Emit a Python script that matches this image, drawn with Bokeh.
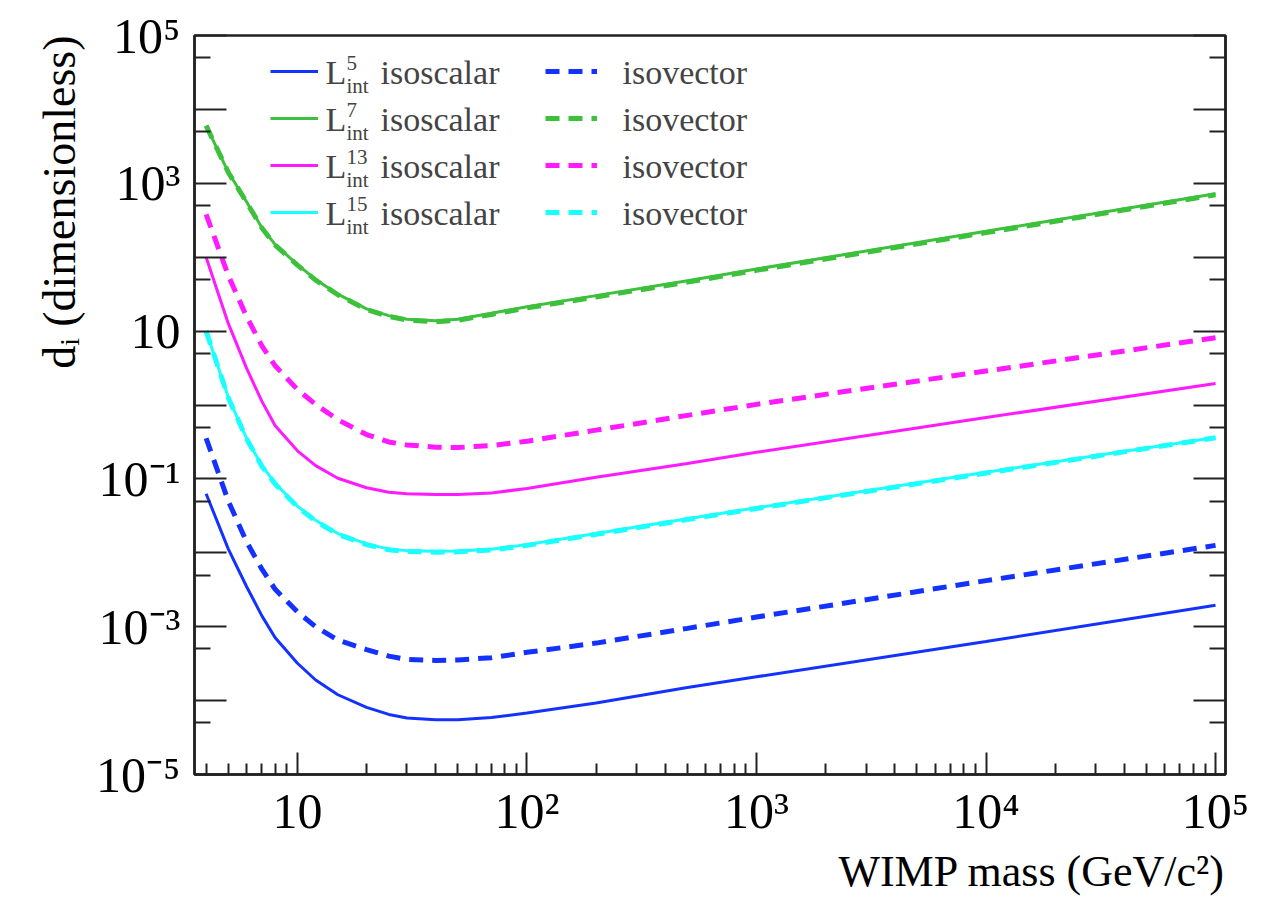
from bokeh.plotting import figure
from bokeh.models import (FixedTicker, LogAxis, Legend, LegendItem, Label, Title,
                          Range1d, CustomJSTickFormatter)
from bokeh.core.properties import value
from bokeh.embed import file_html
from bokeh.resources import INLINE

# ---------------- data ----------------
mass = [4, 5, 6, 7, 8, 10, 12, 15, 20, 25, 30, 40, 50, 70, 100, 200, 500, 1000, 10000, 100000]

l5_isoscalar = [0.063, 0.0112, 3.5e-3, 1.4e-3, 7.1e-4, 3.2e-4, 1.9e-4, 1.2e-4, 8.1e-5, 6.5e-5,
                5.8e-5, 5.5e-5, 5.5e-5, 5.9e-5, 6.8e-5, 9.3e-5, 1.5e-4, 2.1e-4, 6.3e-4, 1.95e-3]
l5_isovector = [0.355, 0.050, 0.0141, 6.0e-3, 3.2e-3, 1.58e-3, 1.0e-3, 6.6e-4, 4.9e-4, 4.0e-4,
                3.6e-4, 3.5e-4, 3.55e-4, 3.8e-4, 4.5e-4, 6.0e-4, 9.5e-4, 1.35e-3, 4.2e-3, 0.0126]
l7_isoscalar = [6030, 1410, 562, 251, 148, 79.4, 50.1, 31.6, 20.0, 16.2,
                14.5, 13.8, 14.5, 17.4, 21.4, 30.2, 47.9, 69.2, 224, 724]
l7_isovector = [6030, 1400, 555, 248, 146, 78, 49, 31, 19.6, 15.8,
                14.1, 13.4, 14.0, 16.8, 20.6, 29.0, 46.0, 66.5, 215, 700]
l13_isoscalar = [100, 12.6, 3.16, 1.12, 0.525, 0.24, 0.151, 0.102, 0.076, 0.066,
                 0.063, 0.0617, 0.0617, 0.0646, 0.0741, 0.105, 0.162, 0.229, 0.676, 1.95]
l13_isovector = [380, 56.2, 15.8, 6.31, 3.39, 1.62, 1.02, 0.631, 0.398, 0.316,
                 0.288, 0.269, 0.266, 0.282, 0.324, 0.457, 0.724, 1.02, 2.88, 8.13]
l15_isoscalar = [10.0, 1.26, 0.355, 0.151, 0.087, 0.0427, 0.0275, 0.0182, 0.0132, 0.0112,
                 0.0107, 0.0105, 0.0106, 0.0112, 0.0129, 0.0182, 0.0288, 0.0407, 0.123, 0.363]
l15_isovector = [10.0, 1.25, 0.35, 0.148, 0.085, 0.0418, 0.0269, 0.0178, 0.0129, 0.0110,
                 0.0104, 0.0102, 0.0103, 0.0109, 0.0126, 0.0178, 0.0282, 0.0398, 0.120, 0.36]

operator_sup = ["5", "7", "13", "15"]
series_colors = ["#1432ff", "#3dc13d", "#ff1aff", "#1affff"]
isoscalar_series = [l5_isoscalar, l7_isoscalar, l13_isoscalar, l15_isoscalar]
isovector_series = [l5_isovector, l7_isovector, l13_isovector, l15_isovector]
legend_words = ["isoscalar", "isovector"]

x_tick_labels = {"1": "10", "2": "10\u00b2", "3": "10\u00b3", "4": "10\u2074", "5": "10\u2075"}
y_tick_labels = {"5": "10\u2075", "3": "10\u00b3", "1": "10", "-1": "10\u207b\u00b9",
                 "-3": "10\u207b\u00b3", "-5": "10\u207b\u2075"}
x_title = "WIMP mass (GeV/c\u00b2)"
y_title = "d\u1d62 (dimensionless)"

SERIF = "Liberation Serif"
AX = "#222222"

# ---------------- figure ----------------
p = figure(width=1271, height=905, x_axis_type="log", y_axis_type="log",
           x_range=Range1d(3.56, 1.105e5), y_range=Range1d(1e-5, 1e5),
           output_backend="svg", toolbar_location=None,
           min_border_left=194, min_border_right=46, min_border_top=35, min_border_bottom=131)
p.xgrid.visible = False
p.ygrid.visible = False
p.outline_line_color = AX
p.outline_line_width = 2.5
p.background_fill_color = "white"
p.border_fill_color = "white"

fmt_code = """
const e = Math.round(Math.log10(tick));
const s = labels[String(e)];
return (s === undefined) ? "" : s;
"""

x_major = [10.0 ** k for k in range(1, 6)]
x_minor = [m * 10.0 ** k for k in range(0, 5) for m in range(2, 10)]
y_major = [10.0 ** k for k in range(-5, 6)]
y_minor = [5 * 10.0 ** k for k in range(-6, 5)]

xa = p.xaxis[0]
xa.ticker = FixedTicker(ticks=x_major, minor_ticks=x_minor)
xa.formatter = CustomJSTickFormatter(args=dict(labels=x_tick_labels), code=fmt_code)

ya = p.yaxis[0]
ya.ticker = FixedTicker(ticks=y_major, minor_ticks=y_minor)
ya.formatter = CustomJSTickFormatter(args=dict(labels=y_tick_labels), code=fmt_code)

ra = LogAxis(ticker=FixedTicker(ticks=y_major, minor_ticks=y_minor),
             formatter=CustomJSTickFormatter(args=dict(labels={}), code=fmt_code))
p.add_layout(ra, "right")

for ax in (xa, ya, ra):
    ax.axis_line_color = AX
    ax.axis_line_width = 2.5
    ax.major_tick_line_color = AX
    ax.minor_tick_line_color = AX
    ax.major_tick_line_width = 2
    ax.minor_tick_line_width = 2
    ax.major_tick_out = 0
    ax.minor_tick_out = 0
    ax.major_label_text_font = SERIF
    ax.major_label_text_font_size = "50px"
    ax.major_label_text_color = "black"

xa.major_tick_in = 22
xa.minor_tick_in = 11
xa.major_label_standoff = 8
ya.major_tick_in = 32
ya.minor_tick_in = 16
ya.major_label_standoff = 14
ra.major_tick_in = 32
ra.minor_tick_in = 16
ra.major_label_text_font_size = "1px"
ra.major_label_standoff = 0

# ---------------- curves ----------------
solid_r, dashed_r = [], []
for c, iso in zip(series_colors, isoscalar_series):
    solid_r.append(p.line(mass, iso, line_color=c, line_width=3))
for c, iv in zip(series_colors, isovector_series):
    dashed_r.append(p.line(mass, iv, line_color=c, line_width=5, line_dash="14 9"))

# ---------------- legend (glyph samples) ----------------
leg_common = dict(orientation="vertical", glyph_height=40, label_height=40, spacing=7,
                  padding=0, margin=0, border_line_color=None, background_fill_alpha=0,
                  label_text_font_size="1px", label_width=0, label_standoff=0)
legA = Legend(items=[LegendItem(label=value(""), renderers=[r]) for r in solid_r],
              location=(76, 542), glyph_width=48, **leg_common)
legB = Legend(items=[LegendItem(label=value(""), renderers=[r]) for r in dashed_r],
              location=(351, 542), glyph_width=52, **leg_common)
p.add_layout(legA)
p.add_layout(legB)

# ---------------- legend texts ----------------
for i, sup in enumerate(operator_sup):
    yc = 774 - (72 + 47 * i)
    p.add_layout(Label(x=131, y=yc, x_units="screen", y_units="screen", text="L",
                       text_font=SERIF, text_font_size="34px", text_baseline="middle"))
    p.add_layout(Label(x=152, y=yc + 3, x_units="screen", y_units="screen", text=sup,
                       text_font=SERIF, text_font_size="21px", text_baseline="bottom"))
    p.add_layout(Label(x=152, y=yc - 1, x_units="screen", y_units="screen", text="int",
                       text_font=SERIF, text_font_size="21px", text_baseline="top"))
    p.add_layout(Label(x=186, y=yc, x_units="screen", y_units="screen", text=legend_words[0],
                       text_font=SERIF, text_font_size="34px", text_baseline="middle"))
    p.add_layout(Label(x=428, y=yc, x_units="screen", y_units="screen", text=legend_words[1],
                       text_font=SERIF, text_font_size="34px", text_baseline="middle"))

# ---------------- axis titles ----------------
p.add_layout(Title(text=x_title, align="right", text_font=SERIF, text_font_size="44px",
                   text_font_style="normal", text_color="black", standoff=6), "below")
p.add_layout(Title(text=y_title, align="right", text_font=SERIF, text_font_size="46px",
                   text_font_style="normal", text_color="black", standoff=18), "left")

open("out.html", "w").write(file_html(p, INLINE))
